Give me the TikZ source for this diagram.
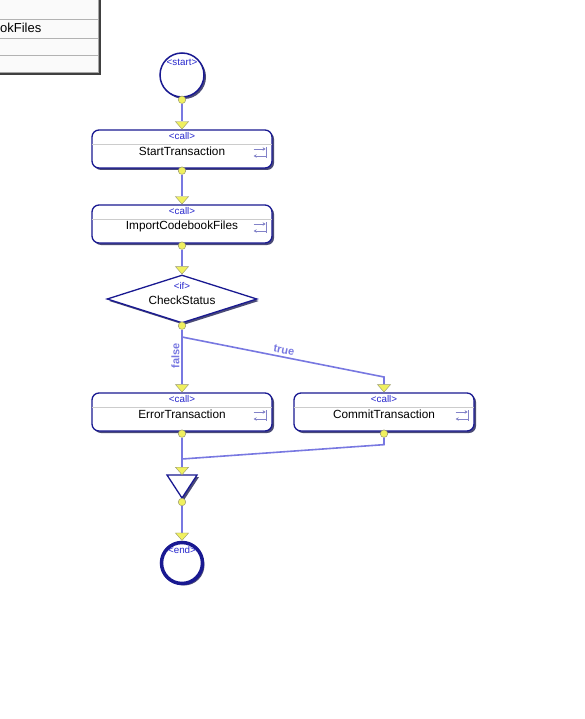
\documentclass[tikz,border=0pt]{standalone}
\usepackage{fontspec}
\setmainfont{Liberation Sans}
\usetikzlibrary{shapes.geometric,shadows,arrows.meta,calc,positioning}

\definecolor{boxblue}{RGB}{25,25,145}
\definecolor{flowblue}{RGB}{120,120,225}
\definecolor{tagblue}{RGB}{40,40,205}
\definecolor{jointyellow}{RGB}{240,240,95}
\definecolor{jointedge}{RGB}{150,150,110}
\definecolor{iconblue}{RGB}{130,130,200}
\definecolor{panelgray}{RGB}{250,250,250}

\tikzset{
  boxshadow/.style={drop shadow={shadow xshift=2pt, shadow yshift=-2pt, fill=boxblue!50!black, opacity=0.75}},
  callbox/.style={draw=boxblue, line width=1.3pt, fill=white, rounded corners=7pt,
    minimum width=180pt, minimum height=38pt, inner sep=0pt, boxshadow},
  startnode/.style={circle, draw=boxblue, line width=1.5pt, fill=white,
    minimum size=44pt, inner sep=0pt, boxshadow},
  endnode/.style={startnode, line width=3.5pt, minimum size=41pt},
  ifnode/.style={diamond, draw=boxblue, line width=1.3pt, fill=white,
    minimum width=150pt, minimum height=48pt, inner sep=0pt, boxshadow},
  tag/.style={text=tagblue, font=\fontsize{9.8}{11}\selectfont, inner sep=0pt},
  nametext/.style={font=\fontsize{11.8}{13}\selectfont, inner sep=0pt},
  joint/.style={circle, fill=jointyellow, draw=jointedge, line width=0.5pt,
    minimum size=7.5pt, inner sep=0pt},
  flow/.style={draw=flowblue, line width=1.6pt},
  flowarrow/.style={flow, -{Triangle[width=14pt,length=8pt,fill=jointyellow,color=jointedge,line width=0.4pt]}},
  branch/.style={text=flowblue, font=\bfseries\fontsize{11}{13}\selectfont, inner sep=1pt},
  icon/.style={draw=iconblue, line width=0.7pt}
}

% little call icon at the right of a call box
\newcommand{\callicon}[1]{%
  \draw[icon, -{Stealth[length=3pt,width=3.5pt]}] ($(#1.east)+(-19,0)$) -- ($(#1.east)+(-7,0)$);
  \draw[icon] ($(#1.east)+(-6,-2)$) -- ($(#1.east)+(-6,9)$);
  \draw[icon, -{Stealth[length=3pt,width=3.5pt]}] ($(#1.east)+(-6,7)$) -- ($(#1.east)+(-19,7)$);
  \draw[gray!40, line width=0.5pt] ($(#1.west)+(0.8,-5)$) -- ($(#1.east)+(-0.8,-5)$);
}

\begin{document}
\begin{tikzpicture}[x=1pt, y=-1pt]
  \useasboundingbox (0,0) rectangle (584,719);

  % Panel in the top left corner
  \begin{scope}
    \clip (0,0) rectangle (120,90);
    \fill[black!75] (-10,-10) rectangle (101,75);
    \draw[gray!70, fill=panelgray] (-10,-10) rectangle (98,72);
    \draw[gray!60] (-10,19) -- (98,19);
    \draw[gray!60] (-10,38) -- (98,38);
    \draw[gray!60] (-10,55) -- (98,55);
    \node[anchor=east, font=\fontsize{13}{15}\selectfont, inner sep=0pt] (panel-text) at (41.5,29) {ImportCodebookFiles};
  \end{scope}

  % Start
  \node[startnode] (start) at (182,75) {};
  \node[tag] (start-tag) at ($(start)+(0,-13)$) {<start>};
  \node[joint] (start-out) at ([yshift=-2pt]start.south) {};

  % StartTransaction
  \node[callbox] (st) at (182,149) {};
  \callicon{st}
  \node[tag] (st-tag) at ($(st)+(0,-13)$) {<call>};
  \node[nametext] (st-name) at ($(st)+(0,2)$) {StartTransaction};
  \node[joint] (st-out) at ([yshift=-2pt]st.south) {};

  % ImportCodebookFiles
  \node[callbox] (imp) at (182,224) {};
  \callicon{imp}
  \node[tag] (imp-tag) at ($(imp)+(0,-13)$) {<call>};
  \node[nametext] (imp-name) at ($(imp)+(0,2)$) {ImportCodebookFiles};
  \node[joint] (imp-out) at ([yshift=-2pt]imp.south) {};

  % CheckStatus
  \node[ifnode] (if) at (182,299) {};
  \node[tag] (if-tag) at ($(if)+(0,-13)$) {<if>};
  \node[nametext] (if-name) at ($(if)+(0,1)$) {CheckStatus};
  \node[joint] (if-out) at ([yshift=-2pt]if.south) {};

  % ErrorTransaction and CommitTransaction
  \node[callbox] (err) at (182,412) {};
  \callicon{err}
  \node[tag] (err-tag) at ($(err)+(0,-13)$) {<call>};
  \node[nametext] (err-name) at ($(err)+(0,2)$) {ErrorTransaction};
  \node[joint] (err-out) at ([yshift=-2pt]err.south) {};

  \node[callbox] (com) at (384,412) {};
  \callicon{com}
  \node[tag] (com-tag) at ($(com)+(0,-13)$) {<call>};
  \node[nametext] (com-name) at ($(com)+(0,2)$) {CommitTransaction};
  \node[joint] (com-out) at ([yshift=-2pt]com.south) {};

  % Merge triangle
  \coordinate (m1) at (167,475);
  \coordinate (m2) at (197,475);
  \coordinate (m3) at (182,498);
  \coordinate (merge-in) at (182,475);
  \draw[draw=boxblue, line width=1.3pt, fill=white, line join=miter, boxshadow] (m1) -- (m2) -- (m3) -- cycle;
  \node[joint] (merge-out) at (182,502) {};

  % End
  \node[endnode] (end) at (182,563) {};
  \node[tag] (end-tag) at ($(end)+(0,-13)$) {<end>};

  % Connectors
  \draw[flowarrow] (start-out) -- (st.north);
  \draw[flowarrow] (st-out) -- (imp.north);
  \draw[flowarrow] (imp-out) -- (if.north);
  \draw[flowarrow] (if-out) -- (err.north);
  \coordinate (fork) at (182,337);
  \coordinate (bend) at (384,377);
  \draw[flowarrow] (fork) -- (bend) -- (com.north);
  \coordinate (join) at (182,459);
  \draw[flow] (com-out) -- ++(0,11) -- (join);
  \draw[flowarrow] (err-out) -- (merge-in);
  \draw[flowarrow] (merge-out) -- (end.north);

  % Branch labels
  \node[branch, rotate=90] (false-text) at (175.5,356) {false};
  \node[branch, rotate=-11] (true-text) at (284,350) {true};
\end{tikzpicture}
\end{document}
